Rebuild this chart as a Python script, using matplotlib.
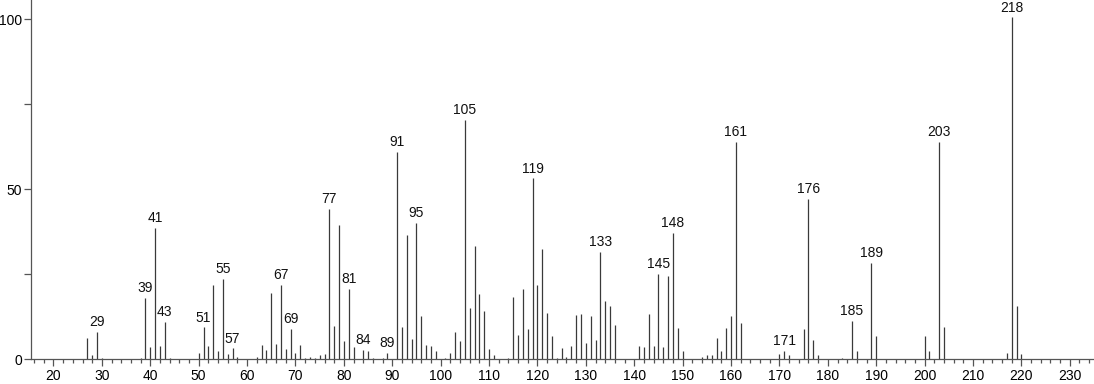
import matplotlib
matplotlib.use("Agg")
import matplotlib.pyplot as plt
from matplotlib.ticker import MultipleLocator, FixedLocator

plt.rcParams['font.family'] = ['Liberation Sans', 'DejaVu Sans']

mz = [27, 28, 29, 30, 38, 39, 40, 41, 42, 43, 44,
      50, 51, 52, 53, 54, 55, 56, 57, 58,
      62, 63, 64, 65, 66, 67, 68, 69, 70, 71, 72, 73, 74, 75, 76,
      77, 78, 79, 80, 81, 82, 84, 85, 86, 88, 89,
      91, 92, 93, 94, 95, 96, 97, 98, 99, 101, 102, 103, 104,
      105, 106, 107, 108, 109, 110, 111, 112, 114,
      115, 116, 117, 118, 119, 120, 121, 122, 123, 124, 125, 126, 127, 128,
      129, 130, 131, 132, 133, 134, 135, 136,
      141, 142, 143, 144, 145, 146, 147, 148, 149, 150,
      154, 155, 156, 157, 158, 159, 160, 161, 162,
      170, 171, 172, 175, 176, 177, 178, 183, 185, 186, 189, 190,
      200, 201, 203, 204, 217, 218, 219, 220]
intensity = [6.4, 1.3, 8.1, 0.5, 0.5, 18.1, 3.5, 38.7, 4.0, 11.0, 0.5,
             1.8, 9.4, 4.0, 21.9, 2.3, 23.6, 1.5, 3.2, 0.7,
             0.7, 4.3, 2.7, 19.6, 4.6, 21.9, 3.0, 8.9, 1.8, 4.3, 0.5, 0.7, 0.4, 1.3, 1.5,
             44.2, 9.8, 39.4, 5.4, 20.8, 3.5, 2.7, 2.3, 0.5, 0.5, 1.8,
             61.0, 9.5, 36.4, 5.9, 40.1, 12.8, 4.3, 4.0, 2.3, 0.5, 1.8, 8.1, 5.4,
             70.4, 15.2, 33.4, 19.3, 14.3, 3.0, 1.3, 0.2, 0.4,
             18.2, 7.0, 20.8, 8.9, 53.2, 21.7, 32.5, 13.6, 6.9, 0.5, 3.2, 0.7, 4.0, 13.1,
             13.3, 4.9, 12.8, 5.6, 31.6, 17.2, 15.7, 10.0,
             4.0, 3.5, 13.3, 4.0, 25.1, 3.5, 24.6, 37.2, 9.3, 2.5,
             0.7, 1.3, 1.3, 6.4, 2.5, 9.2, 12.8, 64.0, 10.6,
             1.6, 2.5, 1.3, 8.9, 47.1, 5.6, 1.3, 0.4, 11.3, 2.3, 28.4, 6.9,
             6.9, 2.5, 64.0, 9.4, 1.8, 100.5, 15.7, 1.6]
labeled = [29, 39, 41, 43, 51, 55, 57, 67, 69, 77, 81, 84, 89, 91, 95,
           105, 119, 133, 145, 148, 161, 171, 176, 185, 189, 203, 218]
x_ticks = [20, 30, 40, 50, 60, 70, 80, 90, 100, 110, 120, 130, 140, 150,
           160, 170, 180, 190, 200, 210, 220, 230]
y_ticks = [0, 50, 100]

fig = plt.figure(figsize=(10.94, 3.84), dpi=100)
ax = fig.add_axes([30.5 / 1094, 1 - 359.3 / 384, 1 - 30.5 / 1094, 359.3 / 384])
ax.set_xlim(15.25, 235)
ax.set_ylim(0, 105.6)

ax.vlines(mz, 0, intensity, colors='#3a3a3a', linewidth=0.9)

lookup = dict(zip(mz, intensity))
for m in labeled:
    ax.annotate(str(m), (m, lookup[m]), xytext=(0, 2), textcoords='offset points',
                ha='center', va='bottom', fontsize=10, color='#111111')

for s in ['top', 'right']:
    ax.spines[s].set_visible(False)
for s in ['left', 'bottom']:
    ax.spines[s].set_color('#555555')
    ax.spines[s].set_linewidth(0.9)

ax.xaxis.set_major_locator(FixedLocator(x_ticks))
ax.xaxis.set_minor_locator(MultipleLocator(2))
ax.yaxis.set_major_locator(FixedLocator(y_ticks))
ax.yaxis.set_minor_locator(FixedLocator([25, 75]))
ax.tick_params(axis='x', which='major', length=5, width=0.9, color='#555555', pad=2, labelsize=10)
ax.tick_params(axis='x', which='minor', length=3, width=0.9, color='#555555')
ax.tick_params(axis='y', which='both', length=5, width=0.9, color='#555555', pad=1, labelsize=10)
ax.patch.set_visible(False)

fig.savefig('out.png', dpi=100)
